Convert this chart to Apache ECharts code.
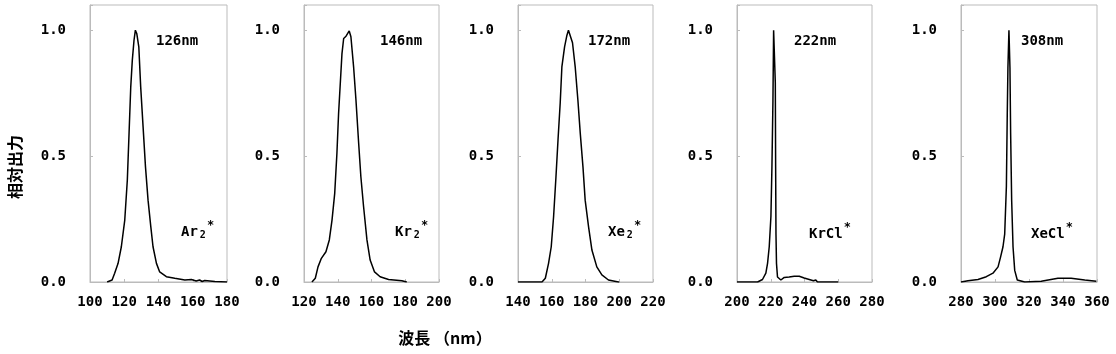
<!DOCTYPE html>
<html><head><meta charset="utf-8">
<script src="https://cdn.jsdelivr.net/npm/echarts@6/dist/echarts.min.js"></script>
<style>html,body{margin:0;padding:0;background:#fff}#c{width:1116px;height:354px}</style>
</head><body><div id="c"></div>
<script>
// ---- data ----
const speciesLabels = ['Ar', 'Kr', 'Xe', 'KrCl', 'XeCl'];
const speciesSub = ['2', '2', '2', '', ''];
const peakLabels = ['126nm', '146nm', '172nm', '222nm', '308nm'];
const xMins = [100, 120, 140, 200, 280];
const xMaxs = [180, 200, 220, 280, 360];
const xInterval = 20;
const yTickValues = [0, 0.5, 1.0];
const yAxisTitle = '相対出力';
const xAxisTitle = '波長 （nm）';

const ar2 = [[110,0],[112.9,0.008],[114.4,0.035],[116.4,0.074],[118.3,0.14],[120.3,0.246],[121.8,0.405],[122.8,0.59],[123.8,0.775],[124.7,0.88],[125.7,0.96],[126.5,1.0],[127.3,0.987],[128.5,0.934],[129.6,0.775],[131,0.616],[132.4,0.457],[133.9,0.325],[135.5,0.22],[136.8,0.14],[138.8,0.074],[140.7,0.04],[144.6,0.021],[149.5,0.015],[155.4,0.008],[159.2,0.01],[162,0.004],[164,0.008],[165.5,0.002],[167,0.006],[172.9,0.002],[180,0]];
const kr2 = [[124.7,0],[126.7,0.015],[128.3,0.06],[130.3,0.094],[133,0.12],[135,0.167],[136.6,0.246],[138.2,0.352],[139.5,0.51],[140.5,0.67],[141.5,0.788],[142.5,0.907],[143.5,0.967],[144.9,0.976],[145.9,0.987],[146.8,0.997],[147.8,0.974],[149.4,0.854],[150.8,0.722],[152.4,0.55],[153.7,0.418],[155.3,0.3],[157.3,0.167],[159.2,0.087],[161.8,0.04],[165.1,0.021],[170.1,0.01],[178,0.005],[180.9,0]];
const xe2 = [[140,0],[154.2,0],[156.2,0.015],[158.1,0.074],[159.7,0.14],[161.1,0.26],[162.5,0.418],[163.7,0.563],[165,0.71],[166,0.854],[167.6,0.934],[169,0.98],[169.9,1.0],[170.9,0.996],[172.3,0.95],[173.9,0.854],[175.5,0.722],[176.9,0.59],[178.5,0.457],[179.8,0.325],[181.8,0.22],[183.8,0.127],[186.7,0.06],[189.7,0.028],[193.6,0.008],[199.5,0],[200,0]];
const krcl = [[200,0],[212.2,0],[215.1,0.01],[217.1,0.035],[218.1,0.074],[219.1,0.14],[220.1,0.26],[220.7,0.457],[221.3,0.72],[221.7,1.0],[222.2,1.0],[222.7,0.79],[222.9,0.457],[223.1,0.19],[223.4,0.074],[224,0.02],[226,0.008],[228,0.018],[230.9,0.02],[233.9,0.023],[236.9,0.023],[239.8,0.016],[242.8,0.01],[245.3,0.005],[246.7,0.008],[247.7,0],[260,0]];
const xecl = [[280,0],[284.1,0.005],[290,0.01],[294.9,0.021],[298.8,0.035],[301.8,0.06],[303.3,0.1],[304.7,0.14],[305.7,0.19],[306.7,0.38],[307.2,0.66],[307.6,0.85],[308.2,1.0],[308.8,0.85],[309.2,0.59],[309.8,0.325],[310.6,0.14],[311.6,0.046],[313.1,0.008],[317.5,0],[327.2,0.003],[337,0.015],[344.8,0.015],[352.8,0.008],[359.6,0.003]];
const spectra = [ar2, kr2, xe2, krcl, xecl];

// ---- layout ----
const gridLefts = [90, 304, 518, 737, 961];
const gridWidths = [137, 135, 135, 135, 136];
const gridTop = 5, gridHeight = 277;
const FONT = '"DejaVu Sans Mono", "Liberation Mono", monospace';
const CJK = '"Noto Sans CJK JP", sans-serif';
const frameColor = '#bbbbbb';

const grids = [], xAxes = [], yAxes = [], series = [], graphics = [];
for (let i = 0; i < 5; i++) {
  grids.push({ left: gridLefts[i], width: gridWidths[i], top: gridTop, height: gridHeight,
    show: true, borderColor: frameColor, borderWidth: 1, backgroundColor: 'transparent' });
  xAxes.push({ gridIndex: i, type: 'value', min: xMins[i], max: xMaxs[i], interval: xInterval,
    axisLine: { show: true, lineStyle: { color: frameColor, width: 1 } },
    axisTick: { show: true, inside: true, length: 3, lineStyle: { color: frameColor } },
    splitLine: { show: false },
    axisLabel: { show: true, margin: 13, color: '#000', fontFamily: FONT, fontSize: 14, fontWeight: 'bold',
      showMinLabel: true, showMaxLabel: true } });
  yAxes.push({ gridIndex: i, type: 'value', min: 0, max: 1.1, interval: 0.5,
    axisLine: { show: true, lineStyle: { color: frameColor, width: 1 } },
    axisTick: { show: true, inside: true, length: 3, lineStyle: { color: frameColor } },
    splitLine: { show: false },
    axisLabel: { show: true, margin: 24, color: '#000', fontFamily: FONT, fontSize: 14, fontWeight: 'bold',
      formatter: v => yTickValues.some(t => Math.abs(t - v) < 1e-6) ? v.toFixed(1) : '' } });
  series.push({ type: 'line', xAxisIndex: i, yAxisIndex: i, data: spectra[i],
    showSymbol: false, symbol: 'none', smooth: false, animation: false,
    lineStyle: { color: '#000', width: 1.5 } });
}

const peakPos = [[156, 42], [380, 42], [588, 42], [794, 42], [1021, 42]];
const specPos = [[181, 230], [395, 230], [608, 230], [809, 232], [1031, 232]];
for (let i = 0; i < 5; i++) {
  graphics.push({ type: 'text', left: peakPos[i][0], top: peakPos[i][1] - 8,
    style: { text: peakLabels[i], font: 'bold 14px ' + FONT, fill: '#000' } });
  const sub = speciesSub[i] ? '{s|' + speciesSub[i] + '}' : '';
  graphics.push({ type: 'text', left: specPos[i][0], top: specPos[i][1] - 10,
    style: { text: '{m|' + speciesLabels[i] + '}' + sub + '{p|*}', fill: '#000',
      rich: {
        m: { fontFamily: FONT, fontSize: 14, fontWeight: 'bold', lineHeight: 20, verticalAlign: 'middle', padding: [4,0,0,0] },
        s: { fontFamily: FONT, fontSize: 10, fontWeight: 'bold', lineHeight: 20, verticalAlign: 'bottom', padding: [6,0,0,2] },
        p: { fontFamily: FONT, fontSize: 12, fontWeight: 'bold', lineHeight: 20, verticalAlign: 'top', padding: [0,0,0,1] }
      } } });
}
graphics.push({ type: 'text', x: 15, y: 167, rotation: Math.PI / 2,
  style: { text: yAxisTitle, font: 'bold 16px ' + CJK, fill: '#000', align: 'center', verticalAlign: 'middle' } });
graphics.push({ type: 'text', x: 445, y: 338,
  style: { text: xAxisTitle, font: 'bold 16px ' + CJK, fill: '#000', align: 'center', verticalAlign: 'middle' } });

const chart = echarts.init(document.getElementById('c'), null, { renderer: 'canvas' });
chart.setOption({ animation: false, backgroundColor: '#fff', grid: grids, xAxis: xAxes, yAxis: yAxes,
  series: series, graphic: graphics });
</script></body></html>
